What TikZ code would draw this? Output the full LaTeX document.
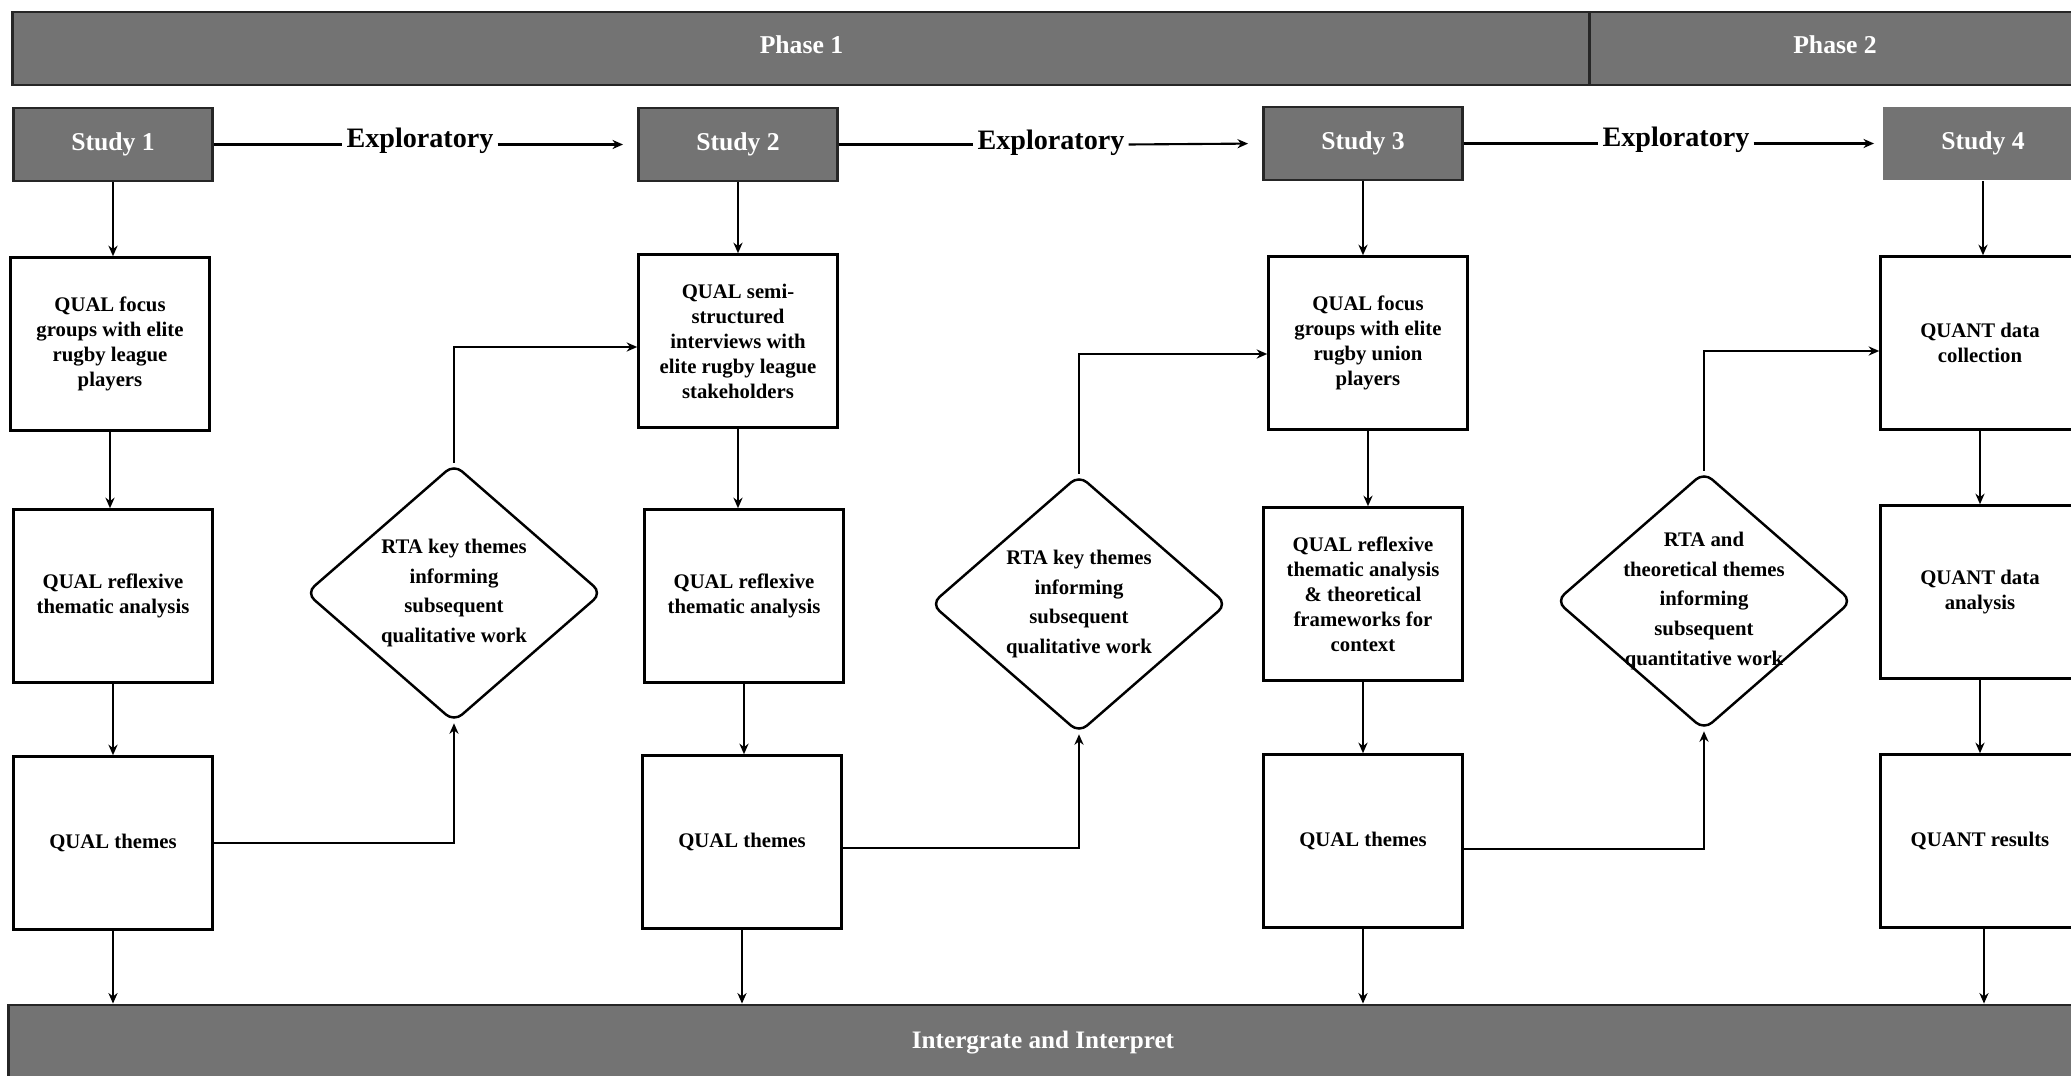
\documentclass[tikz,border=0pt]{standalone}
\usepackage{fontspec}
\setmainfont{Liberation Serif}
\usetikzlibrary{shapes.geometric,arrows.meta}
\definecolor{bargray}{HTML}{737373}
\begin{document}
\begin{tikzpicture}[x=0.01cm,y=-0.01cm,
  bar/.style={draw=black!85, line width=0.8pt, fill=bargray, text=white, inner sep=0,
    font=\fontsize{7.3}{8.5}\selectfont\bfseries},
  studybox/.style={draw=black!85, line width=0.8pt, fill=bargray, text=white,
    minimum width=1.99cm, minimum height=0.73cm, inner sep=0,
    font=\fontsize{7.3}{8.5}\selectfont\bfseries},
  stepbox/.style={draw, line width=0.7pt, minimum width=1.99cm, minimum height=1.73cm,
    inner sep=0, align=center, font=\fontsize{5.9}{7.1}\selectfont\bfseries},
  rtashape/.style={diamond, draw, line width=0.7pt, rounded corners=3pt,
    minimum width=2.96cm, minimum height=2.58cm, inner sep=0},
  rtatext/.style={align=center, inner sep=0, font=\fontsize{5.9}{8.4}\selectfont\bfseries},
  explabel/.style={inner sep=1pt, font=\fontsize{8}{9}\selectfont\bfseries},
  flow/.style={line width=0.6pt, -{Stealth[length=3pt,width=2.6pt]}},
  link/.style={line width=0.6pt}
]
\clip (0,0) rectangle (2071,1076);

% phase header
\node[bar, minimum width=15.77cm, minimum height=0.73cm, text depth=2.2pt] (ph1) at (801.5,48.5) {Phase 1};
\node[bar, minimum width=4.9cm, minimum height=0.73cm, text depth=2.2pt] (ph2) at (1835,48.5) {Phase 2};

% study headers
\node[studybox] (s1) at (113,144.5) {Study 1};
\node[studybox] (s2) at (738,144.5) {Study 2};
\node[studybox] (s3) at (1363,143.5) {Study 3};
\node[studybox, draw=none] (s4) at (1983,143.5) {Study 4};

\node[explabel] (e1) at (420,141) {Exploratory};
\node[explabel] (e2) at (1051,143) {Exploratory};
\node[explabel] (e3) at (1676,140) {Exploratory};

\draw[link] (s1.east) -- (s1.east -| e1.west);
\draw[flow, shorten >=0.14cm] (e1.east |- s1.east) -- (s2.west);
\draw[link] (s2.east) -- (s2.east -| e2.west);
\draw[flow, shorten >=0.14cm] (e2.east |- s2.east) -- (s3.west);
\draw[link] (s3.east) -- (s3.east -| e3.west);
\draw[flow, shorten >=0.08cm] (e3.east |- s3.east) -- (s4.west);

% study 1
\node[stepbox] (a1) at (110,344) {QUAL focus\\groups with elite\\rugby league\\players};
\node[stepbox] (b1) at (113,596) {QUAL reflexive\\thematic analysis};
\node[stepbox] (c1) at (113,843) {QUAL themes};

% study 2
\node[stepbox] (a2) at (738,341) {QUAL semi-\\structured\\interviews with\\elite rugby league\\stakeholders};
\node[stepbox] (b2) at (744,596) {QUAL reflexive\\thematic analysis};
\node[stepbox] (c2) at (742,842) {QUAL themes};

% study 3
\node[stepbox] (a3) at (1368,343) {QUAL focus\\groups with elite\\rugby union\\players};
\node[stepbox] (b3) at (1363,594) {QUAL reflexive\\thematic analysis\\\& theoretical\\frameworks for\\context};
\node[stepbox] (c3) at (1363,841) {QUAL themes};

% study 4
\node[stepbox] (a4) at (1980,343) {QUANT data\\collection};
\node[stepbox] (b4) at (1980,592) {QUANT data\\analysis};
\node[stepbox] (c4) at (1980,841) {QUANT results};

% decision diamonds
\node[rtashape] (d1) at (454,593) {};
\node[rtatext] at (d1.center) {RTA key themes\\informing\\subsequent\\qualitative work};
\node[rtashape] (d2) at (1079,604) {};
\node[rtatext] at (d2.center) {RTA key themes\\informing\\subsequent\\qualitative work};
\node[rtashape] (d3) at (1704,601) {};
\node[rtatext] at (d3.center) {RTA and\\theoretical themes\\informing\\subsequent\\quantitative work};

% integration bar
\node[bar, minimum width=20.68cm, minimum height=0.75cm, font=\fontsize{7.15}{8.5}\selectfont\bfseries] (ib) at (1043,1042.5) {Intergrate and Interpret};

% vertical flow in each study
\foreach \s/\a/\b/\c in {s1/a1/b1/c1, s2/a2/b2/c2, s3/a3/b3/c3} {
  \draw[flow] (\s.south) -- (\s.south |- \a.north);
  \draw[flow] (\a.south) -- (\a.south |- \b.north);
  \draw[flow] (\b.south) -- (\b.south |- \c.north);
  \draw[flow] (\c.south) -- (\c.south |- ib.north);
}
\draw[flow] (s4.south) -- (s4.south |- a4.north);
\draw[flow] (a4.south) -- (a4.south |- b4.north);
\draw[flow] (b4.south) -- (b4.south |- c4.north);
\draw[flow] ([xshift=0.04cm]c4.south) -- ([xshift=0.04cm]c4.south |- ib.north);

% themes feeding the next study
\draw[flow] (c1.east) -| (d1.south);
\draw[flow] (d1.north) |- ([yshift=-0.06cm]a2.west);
\draw[flow] ([yshift=-0.06cm]c2.east) -| (d2.south);
\draw[flow] (d2.north) |- ([yshift=-0.11cm]a3.west);
\draw[flow] ([yshift=-0.08cm]c3.east) -| (d3.south);
\draw[flow] (d3.north) |- ([yshift=-0.08cm]a4.west);
\end{tikzpicture}
\end{document}
